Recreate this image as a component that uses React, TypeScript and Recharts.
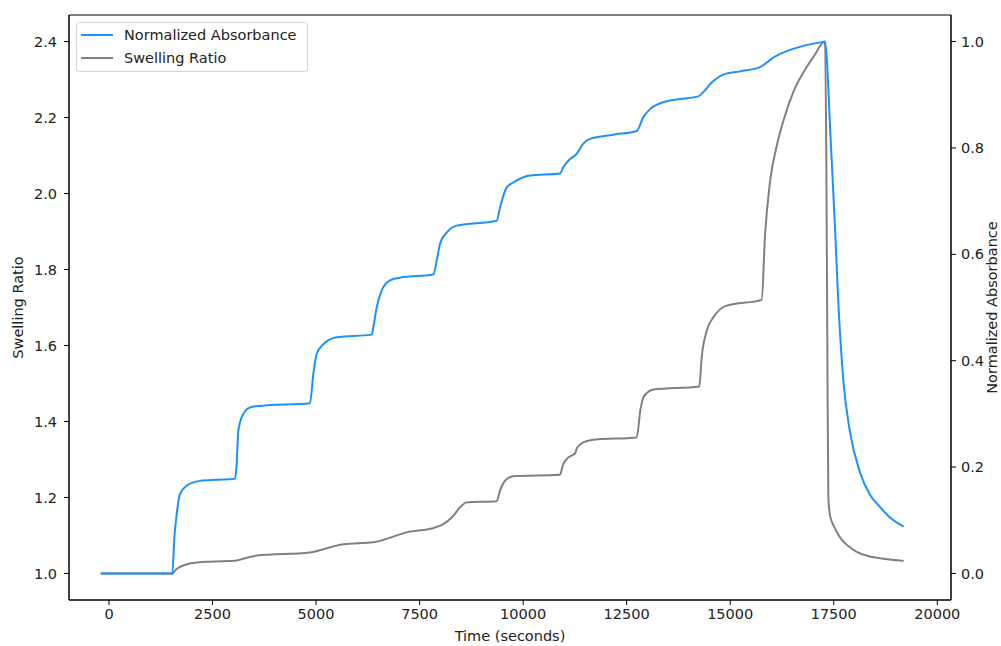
import React from "react";
import { LineChart, Line, XAxis, YAxis, Legend, ReferenceArea } from "recharts";

// Normalized absorbance (right axis)
const absTime = [
  -200, 1528, 1580, 1635, 1714, 1876, 2197, 2600, 3042,
  3083, 3122, 3243, 3405, 3646, 4853,
  4933, 5015, 5174, 5498, 6343,
  6382, 6464, 6585, 6785, 7026, 7830,
  7913, 7992, 8154, 8395, 9361,
  9441, 9603, 9762, 10165, 10890,
  10970, 11131, 11293, 11452, 11614, 12177, 12742,
  12902, 13063, 13384, 13787, 14229,
  14350, 14552, 14833, 15236, 15719,
  15840, 16040, 16364, 16764, 17209, 17290,
  17330, 17410, 17530, 17610, 17730, 17892, 18133, 18375, 18616, 18858, 19188,
];
const absValue = [
  0, 0, 0.07, 0.112, 0.149, 0.165, 0.174, 0.176, 0.178,
  0.206, 0.268, 0.3, 0.312, 0.315, 0.32,
  0.375, 0.413, 0.431, 0.444, 0.449,
  0.463, 0.5, 0.532, 0.551, 0.556, 0.562,
  0.588, 0.62, 0.641, 0.654, 0.663,
  0.688, 0.726, 0.735, 0.748, 0.752,
  0.764, 0.779, 0.789, 0.808, 0.817, 0.825, 0.832,
  0.858, 0.873, 0.886, 0.892, 0.897,
  0.905, 0.923, 0.938, 0.944, 0.952,
  0.958, 0.97, 0.982, 0.992, 0.999, 1.0,
  0.97, 0.84, 0.65, 0.51, 0.364, 0.266, 0.19, 0.148, 0.125, 0.105, 0.088,
];

// Swelling ratio (left axis)
const swellTime = [
  -200, 1528, 1618, 1714, 1956, 2439, 3042,
  3083, 3566, 4853, 5657, 6382, 7188, 7872, 8072, 8275, 8476, 8637, 9361,
  9441, 9562, 9762, 10890,
  10960, 11050, 11200, 11252, 11300, 11452, 11700, 12742,
  12830, 12902, 13000, 13145, 14254,
  14312, 14433, 14592, 14915, 15760,
  15840, 15961, 16122, 16282, 16523, 16847, 17006, 17289,
  17320, 17345, 17369, 17410, 17500, 17650, 17850, 18054, 18350, 18616, 18900, 19188,
];
const swellValue = [
  1.0, 1.0, 1.01, 1.017, 1.026, 1.031, 1.033,
  1.034, 1.047, 1.055, 1.077, 1.082, 1.108, 1.121, 1.13, 1.147, 1.174, 1.187, 1.19,
  1.218, 1.244, 1.256, 1.26,
  1.285, 1.301, 1.312, 1.316, 1.33, 1.345, 1.352, 1.358,
  1.43, 1.463, 1.476, 1.484, 1.492,
  1.569, 1.639, 1.674, 1.705, 1.72,
  1.889, 2.031, 2.125, 2.191, 2.267, 2.333, 2.359, 2.4,
  2.1, 1.6, 1.2, 1.152, 1.125, 1.095, 1.072, 1.057, 1.045, 1.04, 1.036, 1.033,
];

const xTicks = [0, 2500, 5000, 7500, 10000, 12500, 15000, 17500, 20000];
const leftTicks = [1.0, 1.2, 1.4, 1.6, 1.8, 2.0, 2.2, 2.4];
const rightTicks = [0.0, 0.2, 0.4, 0.6, 0.8, 1.0];

const X_DOMAIN: [number, number] = [-966, 20331];
const LEFT_DOMAIN: [number, number] = [0.93, 2.47];
const RIGHT_DOMAIN: [number, number] = [-0.05, 1.05];

const BLUE = "#1e90ff";
const GREY = "#808080";
const FONT = "DejaVu Sans";
const TEXT = "#222";
const FS = 14.5;

const absData = absTime.map((t, i) => ({ t, v: absValue[i] }));
const swellData = swellTime.map((t, i) => ({ t, v: swellValue[i] }));

const legendItems = [
  { label: "Normalized Absorbance", color: BLUE },
  { label: "Swelling Ratio", color: GREY },
];

const renderLegend = () => (
  <div
    style={{
      position: "relative",
      width: 232,
      height: 50,
      boxSizing: "border-box",
      border: "1px solid #d4d4d4",
      borderRadius: 3,
      background: "rgba(255,255,255,0.8)",
      fontFamily: FONT,
      fontSize: FS,
      color: TEXT,
    }}
  >
    {legendItems.map((it, i) => (
      <div key={it.label} style={{ position: "absolute", left: 0, top: 11 + i * 23 }}>
        <div
          style={{
            position: "absolute",
            left: 4,
            top: 0,
            width: 32,
            height: 2,
            background: it.color,
          }}
        />
        <div
          style={{
            position: "absolute",
            left: 47,
            top: -9,
            whiteSpace: "nowrap",
            lineHeight: "20px",
          }}
        >
          {it.label}
        </div>
      </div>
    ))}
  </div>
);

const tickStyle = { fontFamily: FONT, fontSize: FS, fill: TEXT };

export default function App() {
  return (
    <div style={{ position: "absolute", left: 0, top: 0, background: "#fff" }}>
      <LineChart width={1001} height={646} margin={{ top: 15, right: 0, left: 0, bottom: 0 }}>
        <XAxis
          dataKey="t"
          type="number"
          domain={X_DOMAIN}
          ticks={xTicks}
          allowDataOverflow
          height={46}
          tick={tickStyle}
          tickSize={5}
          tickMargin={4}
          stroke="#000"
          tickFormatter={(v: number) => String(v)}
          label={{
            value: "Time (seconds)",
            position: "insideBottom",
            offset: 5,
            style: { fontFamily: FONT, fontSize: FS, fill: TEXT },
          }}
        />
        <YAxis
          yAxisId="left"
          orientation="left"
          type="number"
          domain={LEFT_DOMAIN}
          ticks={leftTicks}
          allowDataOverflow
          width={69}
          tick={tickStyle}
          tickSize={5}
          tickMargin={7}
          stroke="#000"
          tickFormatter={(v: number) => v.toFixed(1)}
          label={{
            value: "Swelling Ratio",
            angle: -90,
            position: "insideLeft",
            offset: 18,
            style: { fontFamily: FONT, fontSize: FS, fill: TEXT, textAnchor: "middle" },
          }}
        />
        <YAxis
          yAxisId="right"
          orientation="right"
          type="number"
          domain={RIGHT_DOMAIN}
          ticks={rightTicks}
          allowDataOverflow
          width={50}
          tick={tickStyle}
          tickSize={5}
          tickMargin={5}
          stroke="#000"
          tickFormatter={(v: number) => v.toFixed(1)}
          label={{
            value: "Normalized Absorbance",
            angle: -90,
            position: "insideRight",
            offset: 9,
            style: { fontFamily: FONT, fontSize: FS, fill: TEXT, textAnchor: "middle" },
          }}
        />
        <ReferenceArea
          yAxisId="left"
          x1={X_DOMAIN[0]}
          x2={X_DOMAIN[1]}
          y1={LEFT_DOMAIN[0]}
          y2={LEFT_DOMAIN[1]}
          fill="none"
          stroke="#000"
          strokeWidth={1}
        />
        <Line
          yAxisId="left"
          data={swellData}
          dataKey="v"
          name="Swelling Ratio"
          type="monotone"
          stroke={GREY}
          strokeWidth={2}
          dot={false}
          isAnimationActive={false}
        />
        <Line
          yAxisId="right"
          data={absData}
          dataKey="v"
          name="Normalized Absorbance"
          type="monotone"
          stroke={BLUE}
          strokeWidth={2}
          dot={false}
          isAnimationActive={false}
        />
        <Legend
          layout="vertical"
          align="center"
          verticalAlign="middle"
          content={renderLegend}
          wrapperStyle={{ left: 76, top: 22, width: 232, height: 50 }}
        />
      </LineChart>
    </div>
  );
}
